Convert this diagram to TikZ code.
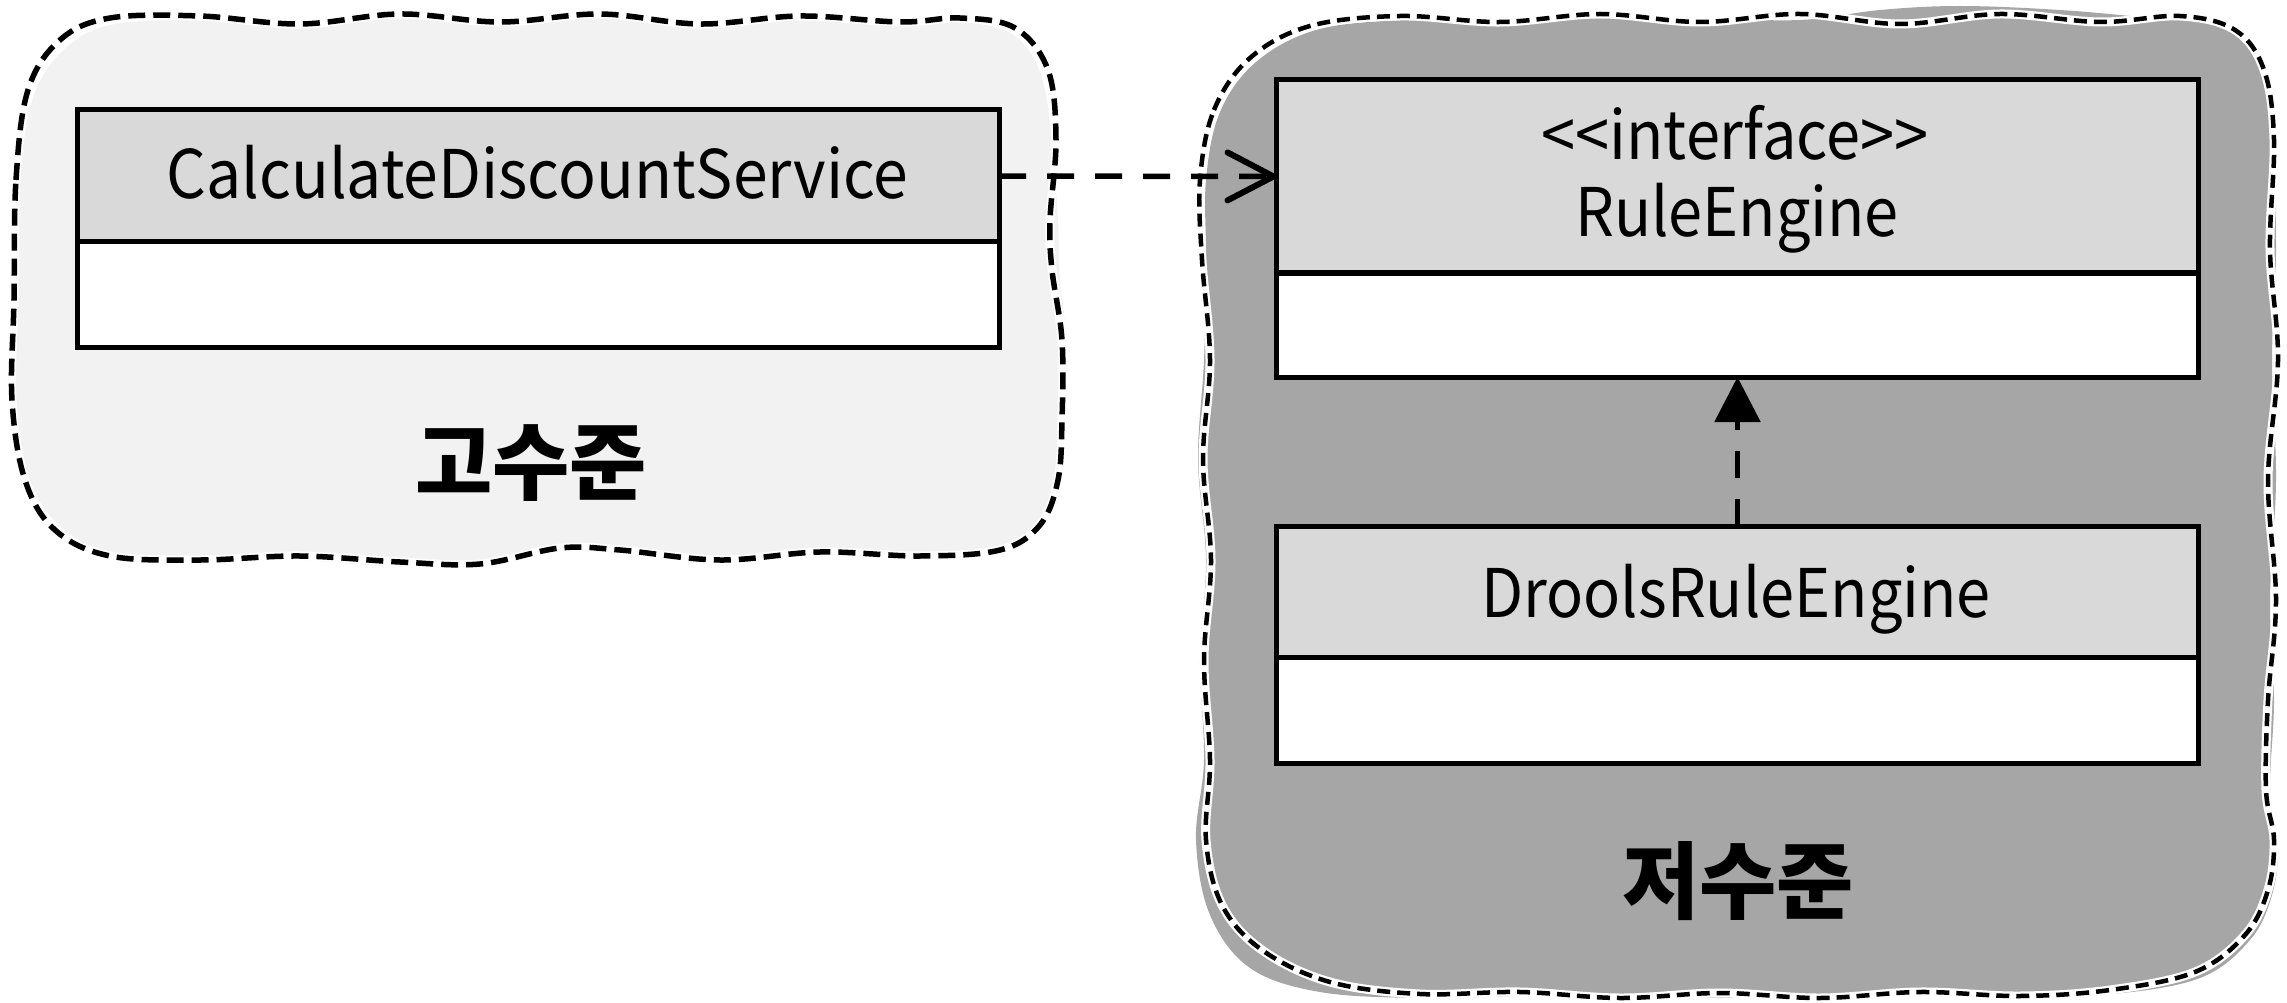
\documentclass[tikz,border=0pt]{standalone}
\usepackage{fontspec}
\setmainfont{Noto Sans CJK KR}
\newfontfamily\latn{Noto Sans CJK KR}[FakeStretch=0.915]
\newfontfamily\latnc{Noto Sans CJK KR}[FakeStretch=0.933]
\usetikzlibrary{arrows.meta}
\definecolor{highfill}{HTML}{F2F2F2}
\definecolor{lowfill}{HTML}{A6A6A6}
\definecolor{hdrgray}{HTML}{D9D9D9}
\begin{document}
\begin{tikzpicture}[x=1pt,y=-1pt,
  hdr/.style={draw, fill=hdrgray, line width=5pt, inner sep=0pt, outer sep=0pt, minimum width=922pt},
  bodybox/.style={draw, fill=white, line width=5pt, inner sep=0pt, outer sep=0pt, minimum width=922pt},
  lbl/.style={font=\latn\fontsize{67}{80}\selectfont, inner sep=0pt, anchor=base},
  lblc/.style={font=\latnc\fontsize{67}{80}\selectfont, inner sep=0pt, anchor=base},
  lvl/.style={font=\fontsize{84}{100}\selectfont\bfseries, inner sep=0pt},
  dep/.style={line width=5.5pt, dash pattern=on 27pt off 21pt},
  cloudunder/.style={white, line width=9pt},
  cloudline/.style={line width=5.5pt, dash pattern=on 17pt off 8pt},
  cloudlinefine/.style={line width=4.5pt, dash pattern=on 13pt off 7pt}
]
\useasboundingbox (0,0) rectangle (2287,1003);

% high-level cloud
\fill[highfill] plot[smooth cycle, tension=0.6] coordinates {
 (18,300) (20,180) (34,95) (68,46) (115,24) (200,20) (300,22) (400,18) (500,18) (600,16) (700,20) (800,18) (900,18) (965,22) (1012,34) (1040,72) (1052,140) (1058,220) (1060,280) (1066,340) (1064,420) (1060,480) (1044,525) (1005,548) (920,552) (820,556) (720,556) (620,548) (560,552) (480,560) (400,566) (300,560) (200,556) (110,552) (60,526) (30,480) (16,400)};
\draw[cloudunder] plot[smooth cycle, tension=0.6] coordinates {
 (14,300) (16,180) (28,90) (60,40) (110,18) (200,16) (300,24) (400,14) (500,22) (600,14) (700,24) (800,16) (900,22) (960,18) (1015,28) (1048,70) (1056,140) (1050,220) (1052,270) (1062,340) (1062,420) (1058,480) (1040,525) (1000,550) (920,556) (820,552) (720,560) (620,550) (560,548) (480,564) (400,562) (300,556) (200,560) (110,556) (55,530) (25,480) (12,400)};
\draw[cloudline] plot[smooth cycle, tension=0.6] coordinates {
 (14,300) (16,180) (28,90) (60,40) (110,18) (200,16) (300,24) (400,14) (500,22) (600,14) (700,24) (800,16) (900,22) (960,18) (1015,28) (1048,70) (1056,140) (1050,220) (1052,270) (1062,340) (1062,420) (1058,480) (1040,525) (1000,550) (920,556) (820,552) (720,560) (620,550) (560,548) (480,564) (400,562) (300,556) (200,560) (110,556) (55,530) (25,480) (12,400)};

% low-level cloud
\fill[lowfill] plot[smooth cycle, tension=0.6] coordinates {
 (1206,180) (1220,112) (1256,62) (1316,30) (1400,20) (1500,18) (1600,18) (1700,18) (1800,20) (1880,10) (1960,6) (2060,10) (2150,18) (2220,26) (2258,62) (2272,140) (2276,250) (2272,360) (2276,480) (2270,600) (2274,700) (2270,790) (2278,845) (2272,895) (2250,940) (2200,978) (2110,994) (2020,992) (1920,996) (1820,994) (1720,998) (1620,994) (1520,996) (1420,998) (1320,992) (1250,968) (1210,915) (1196,840) (1204,760) (1200,660) (1206,560) (1198,460) (1204,360) (1206,260)};
\draw[cloudunder] plot[smooth cycle, tension=0.6] coordinates {
 (1200,180) (1214,110) (1250,58) (1310,26) (1400,16) (1500,22) (1600,14) (1700,22) (1800,14) (1900,24) (2000,14) (2100,22) (2180,16) (2235,30) (2264,70) (2274,140) (2270,250) (2278,360) (2268,480) (2276,600) (2268,700) (2266,790) (2274,840) (2268,890) (2245,935) (2195,972) (2110,990) (2020,996) (1920,992) (1820,998) (1720,993) (1620,998) (1520,992) (1420,994) (1330,982) (1262,950) (1222,905) (1206,840) (1210,760) (1204,660) (1211,560) (1203,460) (1210,360) (1202,260)};
\draw[cloudlinefine] plot[smooth cycle, tension=0.6] coordinates {
 (1200,180) (1214,110) (1250,58) (1310,26) (1400,16) (1500,22) (1600,14) (1700,22) (1800,14) (1900,24) (2000,14) (2100,22) (2180,16) (2235,30) (2264,70) (2274,140) (2270,250) (2278,360) (2268,480) (2276,600) (2268,700) (2266,790) (2274,840) (2268,890) (2245,935) (2195,972) (2110,990) (2020,996) (1920,992) (1820,998) (1720,993) (1620,998) (1520,992) (1420,994) (1330,982) (1262,950) (1222,905) (1206,840) (1210,760) (1204,660) (1211,560) (1203,460) (1210,360) (1202,260)};

% classes
\node[hdr, minimum height=132pt] (cdsH) at (538,176) {};
\node[bodybox, minimum height=105pt] (cdsB) at (538,294.5) {};
\node[lblc] (cdsT) at (537.5,199) {CalculateDiscountService};

\node[hdr, minimum height=193pt] (reH) at (1737.5,176.5) {};
\node[bodybox, minimum height=104pt] (reB) at (1737.5,325) {};
\node[lbl] (reT1) at (1735,160) {<\kern0pt<interface>\kern0pt>};
\node[lbl] (reT2) at (1737,237) {RuleEngine};

\node[hdr, minimum height=131pt] (drH) at (1737.5,591.5) {};
\node[bodybox, minimum height=106pt] (drB) at (1737.5,710) {};
\node[lbl] (drT) at (1736,617) {DroolsRuleEngine};

% level labels
\node[lvl] (hi) at (531,463) {고수준};
\node[lvl] (lo) at (1738,881) {저수준};

% connectors
\draw[dep, -{Straight Barb[length=46pt,width=48pt,line width=6pt,round]}] (cdsH.east) -- (reH.west);
\draw[dep, -{Triangle[length=45pt,width=45pt]}] (drH.north) -- (reB.south);
\end{tikzpicture}
\end{document}
